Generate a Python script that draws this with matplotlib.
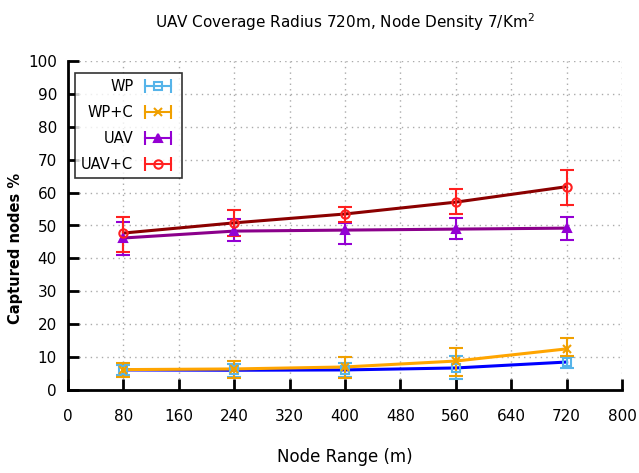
import matplotlib
matplotlib.use("Agg")
import matplotlib.pyplot as plt  # noqa: E402
from matplotlib.legend_handler import HandlerLine2D, HandlerTuple  # noqa: E402
from matplotlib.lines import Line2D  # noqa: E402

node_range = [80, 240, 400, 560, 720]

wp = [6.1, 6.0, 6.1, 6.7, 8.5]
wp_lo = [4.5, 4.0, 4.0, 3.3, 6.7]
wp_hi = [7.5, 8.0, 8.2, 10.3, 10.0]

wpc = [6.2, 6.4, 7.0, 8.8, 12.5]
wpc_lo = [4.0, 3.6, 3.7, 4.3, 10.3]
wpc_hi = [8.2, 8.8, 10.0, 12.8, 15.8]

uav = [46.2, 48.3, 48.6, 48.9, 49.2]
uav_lo = [41.0, 45.3, 44.4, 45.9, 45.6]
uav_hi = [51.0, 52.0, 50.8, 52.3, 52.6]

uavc = [47.7, 50.8, 53.5, 57.1, 61.8]
uavc_lo = [42.0, 46.8, 51.0, 53.5, 56.2]
uavc_hi = [52.6, 54.7, 55.6, 61.0, 66.9]

series = [
    ("WP", wp, wp_lo, wp_hi, "#56b4e9", "#0000ff", "s"),
    ("WP+C", wpc, wpc_lo, wpc_hi, "#f0a000", "#ffa500", "x"),
    ("UAV", uav, uav_lo, uav_hi, "#9400d3", "#8b008b", "^"),
    ("UAV+C", uavc, uavc_lo, uavc_hi, "#ff2020", "#8b0000", "o"),
]

plt.rcParams["font.family"] = ["DejaVu Sans"]
fig = plt.figure(figsize=(6.39, 4.73), dpi=100)
ax = fig.add_axes([68 / 639, 1 - 390 / 473, 554 / 639, 329 / 473])

handles, labels, hmap = [], [], {}
for label, y, lo, hi, ecol, lcol, mk in series:
    ax.plot(node_range, y, color=lcol, lw=2.2, zorder=2)
    err = [[v - l for v, l in zip(y, lo)], [h - v for v, h in zip(y, hi)]]
    mfc = "none" if mk in "so" else ecol
    ax.errorbar(node_range, y, yerr=err, fmt=mk, color=ecol, mfc=mfc,
                ms=6, mew=1.5, elinewidth=1.5, capsize=5, capthick=1.5,
                zorder=3)
    # gnuplot-style key entry: horizontal bar with end caps, marker centred
    caps = Line2D([], [], color=ecol, lw=1.5, marker="|", ms=10, mew=1.5)
    mark = Line2D([], [], color=ecol, lw=0, marker=mk, mfc=mfc, ms=6,
                  mew=1.5)
    hmap[caps] = HandlerLine2D(numpoints=2)
    hmap[mark] = HandlerLine2D(numpoints=1)
    handles.append((caps, mark))
    labels.append(label)
hmap[tuple] = HandlerTuple(ndivide=1)

ax.set_xlim(0, 800)
ax.set_ylim(0, 100)
ax.set_xticks(range(0, 801, 80))
ax.set_yticks(range(0, 101, 10))
ax.grid(True, color="#aaaaaa", ls=(0, (1, 3)), lw=1)
for side in ("top", "right"):
    ax.spines[side].set_visible(False)
for side in ("left", "bottom"):
    ax.spines[side].set_linewidth(2)
ax.tick_params(direction="in", length=8, width=2, labelsize=11)
ax.tick_params(axis="x", pad=14)
ax.tick_params(axis="y", pad=8)
ax.set_xlabel("Node Range (m)", fontsize=12, va="center")
ax.xaxis.set_label_coords(0.5, -0.204)
ax.set_ylabel("Captured nodes %", fontsize=10.5, fontweight="bold",
              va="center")
ax.yaxis.set_label_coords(-0.094, 0.43)
ax.set_title("UAV Coverage Radius 720m, Node Density 7/Km$^2$", fontsize=11,
             pad=24)

leg = ax.legend(handles, labels, handler_map=hmap, loc="upper left",
                markerfirst=False, bbox_to_anchor=(0.012, 0.965),
                fontsize=10.5, frameon=True, fancybox=False,
                edgecolor="black", handlelength=2.4, handletextpad=0.5,
                labelspacing=0.75, borderpad=0.45, borderaxespad=0)
leg.get_frame().set_linewidth(1.2)
for t in leg.get_texts():
    t.set_ha("right")

fig.savefig("out.png", dpi=100)
